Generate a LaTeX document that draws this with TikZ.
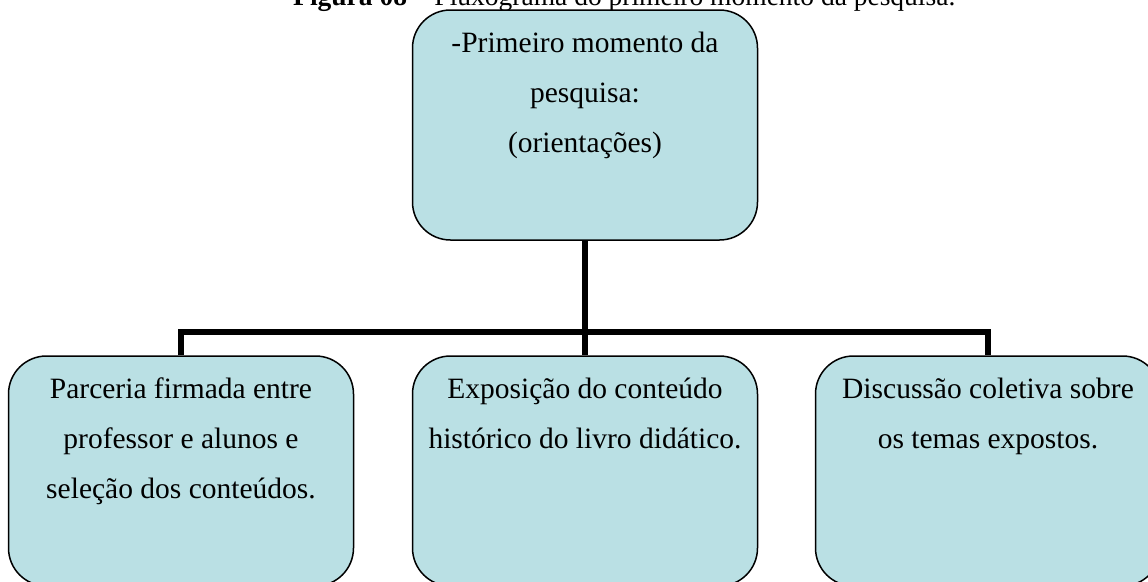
\documentclass[tikz,border=0pt]{standalone}
\usepackage{fontspec}
\setmainfont{Liberation Serif}
\usetikzlibrary{positioning}

\definecolor{caixa}{RGB}{186,224,228}

\tikzset{
  etapa/.style={draw=black, line width=1.5pt, fill=caixa, rounded corners=38pt,
    inner sep=0pt, minimum width=345pt, minimum height=230pt},
  ligacao/.style={line width=5.5pt}
}
\newcommand{\caixatexto}[1]{\parbox[c][230pt][t]{345pt}{\centering\fontsize{29.5}{50}\selectfont\rule{0pt}{42pt}#1\par}}

\begin{document}
\begin{tikzpicture}[x=1pt,y=-1pt]
\useasboundingbox (0,0) rectangle (1148,581);

% legenda (cortada no topo)
\node[anchor=base west, inner sep=0pt, font=\fontsize{27.5}{33}\selectfont] (legenda) at (293,5)
  {\textbf{Figura 08} – Fluxograma do primeiro momento da pesquisa.};

% caixas
\node[etapa] (momento) at (585,125) {\caixatexto{-Primeiro momento da\\pesquisa:\\(orientações)}};
\node[etapa] (parceria) at (181,471) {\caixatexto{Parceria firmada entre\\professor e alunos e\\seleção dos conteúdos.}};
\node[etapa] (exposicao) at (585,471) {\caixatexto{Exposição do conteúdo\\histórico do livro didático.}};
\node[etapa] (discussao) at (988,471) {\caixatexto{Discussão coletiva sobre\\os temas expostos.}};

% ligacoes
\coordinate (juncao) at (585,332);
\draw[ligacao] (momento.south) -- (exposicao.north);
\draw[ligacao] (parceria.north) |- (juncao) -| (discussao.north);
\end{tikzpicture}
\end{document}
